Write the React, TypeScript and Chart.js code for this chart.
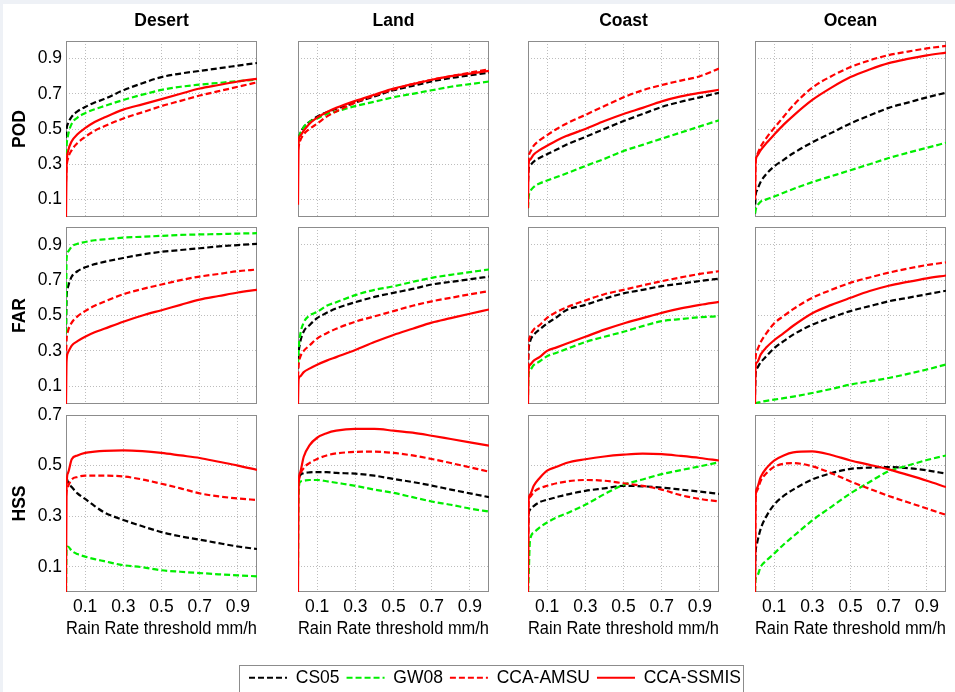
import React, { useEffect, useRef } from "react";
import { Chart, registerables } from "chart.js";
Chart.register(...registerables);

const FONT = 'Arial, "Liberation Sans", sans-serif';
const FS = 17.5;

// ---------- data ----------
const THRESHOLDS = [0, 0.003, 0.01, 0.03, 0.06, 0.1, 0.15, 0.2, 0.3, 0.4, 0.5, 0.6, 0.7, 0.8, 0.9, 1.0];
const REGIONS = ["Desert", "Land", "Coast", "Ocean"];
const METRICS = ["POD", "FAR", "HSS"];
const ALGORITHMS = ["CS05", "GW08", "CCA-AMSU", "CCA-SSMIS"];
const X_TICKS = [0.1, 0.3, 0.5, 0.7, 0.9];
const POD_FAR_TICKS = [0.1, 0.3, 0.5, 0.7, 0.9];
const HSS_TICKS = [0.1, 0.3, 0.5, 0.7];

// Desert
const DESERT_POD_CS05 = [0.45, 0.5, 0.53, 0.57, 0.6, 0.625, 0.65, 0.67, 0.72, 0.76, 0.795, 0.815, 0.83, 0.845, 0.86, 0.875];
const DESERT_POD_GW08 = [0.3, 0.4, 0.46, 0.53, 0.565, 0.59, 0.612, 0.63, 0.665, 0.695, 0.722, 0.74, 0.752, 0.762, 0.772, 0.78];
const DESERT_POD_AMSU = [0.2, 0.28, 0.33, 0.38, 0.42, 0.455, 0.49, 0.515, 0.56, 0.595, 0.63, 0.66, 0.69, 0.715, 0.74, 0.765];
const DESERT_POD_SSMIS = [0, 0.28, 0.37, 0.43, 0.47, 0.505, 0.54, 0.565, 0.61, 0.64, 0.67, 0.7, 0.73, 0.75, 0.77, 0.785];

const DESERT_FAR_CS05 = [0.4, 0.6, 0.66, 0.72, 0.75, 0.772, 0.79, 0.803, 0.825, 0.845, 0.86, 0.87, 0.88, 0.89, 0.898, 0.905];
const DESERT_FAR_GW08 = [0.4, 0.82, 0.86, 0.89, 0.905, 0.915, 0.925, 0.93, 0.94, 0.945, 0.95, 0.955, 0.958, 0.96, 0.963, 0.965];
const DESERT_FAR_AMSU = [0.25, 0.36, 0.41, 0.46, 0.495, 0.525, 0.555, 0.578, 0.62, 0.65, 0.675, 0.7, 0.72, 0.735, 0.75, 0.76];
const DESERT_FAR_SSMIS = [0, 0.24, 0.29, 0.33, 0.355, 0.38, 0.405, 0.425, 0.465, 0.5, 0.53, 0.56, 0.59, 0.61, 0.63, 0.645];

const DESERT_HSS_CS05 = [0.45, 0.45, 0.435, 0.415, 0.39, 0.368, 0.34, 0.315, 0.285, 0.26, 0.237, 0.22, 0.207, 0.193, 0.18, 0.17];
const DESERT_HSS_GW08 = [0, 0.17, 0.18, 0.163, 0.15, 0.14, 0.13, 0.122, 0.106, 0.098, 0.086, 0.08, 0.075, 0.07, 0.066, 0.062];
const DESERT_HSS_AMSU = [0.38, 0.4, 0.417, 0.445, 0.455, 0.46, 0.46, 0.46, 0.457, 0.445, 0.428, 0.41, 0.39, 0.378, 0.37, 0.364];
const DESERT_HSS_SSMIS = [0, 0.42, 0.47, 0.525, 0.54, 0.55, 0.555, 0.558, 0.56, 0.557, 0.55, 0.54, 0.53, 0.515, 0.5, 0.483];

// Land
const LAND_POD_CS05 = [0.45, 0.45, 0.47, 0.51, 0.54, 0.57, 0.595, 0.615, 0.65, 0.685, 0.72, 0.745, 0.77, 0.79, 0.805, 0.82];
const LAND_POD_GW08 = [0.4, 0.44, 0.47, 0.51, 0.54, 0.56, 0.585, 0.6, 0.63, 0.655, 0.68, 0.7, 0.72, 0.74, 0.755, 0.77];
const LAND_POD_AMSU = [0.38, 0.4, 0.43, 0.47, 0.5, 0.53, 0.57, 0.6, 0.65, 0.69, 0.725, 0.755, 0.78, 0.8, 0.82, 0.84];
const LAND_POD_SSMIS = [0.07, 0.43, 0.46, 0.49, 0.53, 0.565, 0.595, 0.62, 0.66, 0.695, 0.73, 0.755, 0.78, 0.8, 0.815, 0.83];

const LAND_FAR_CS05 = [0.2, 0.28, 0.34, 0.41, 0.445, 0.485, 0.515, 0.54, 0.575, 0.605, 0.628, 0.65, 0.675, 0.69, 0.705, 0.72];
const LAND_FAR_GW08 = [0.22, 0.3, 0.38, 0.46, 0.5, 0.52, 0.555, 0.575, 0.615, 0.645, 0.665, 0.69, 0.713, 0.73, 0.745, 0.76];
const LAND_FAR_AMSU = [0.15, 0.22, 0.26, 0.3, 0.33, 0.37, 0.4, 0.425, 0.465, 0.495, 0.525, 0.555, 0.58, 0.6, 0.62, 0.638];
const LAND_FAR_SSMIS = [0, 0.14, 0.155, 0.18, 0.2, 0.222, 0.245, 0.265, 0.305, 0.35, 0.39, 0.425, 0.46, 0.485, 0.51, 0.534];

const LAND_HSS_CS05 = [0.42, 0.44, 0.46, 0.47, 0.473, 0.474, 0.474, 0.471, 0.468, 0.46, 0.447, 0.435, 0.421, 0.405, 0.39, 0.375];
const LAND_HSS_GW08 = [0.1, 0.38, 0.434, 0.44, 0.443, 0.443, 0.438, 0.432, 0.42, 0.405, 0.392, 0.375, 0.358, 0.345, 0.33, 0.318];
const LAND_HSS_AMSU = [0.4, 0.43, 0.46, 0.49, 0.51, 0.526, 0.54, 0.548, 0.554, 0.555, 0.55, 0.54, 0.526, 0.51, 0.493, 0.476];
const LAND_HSS_SSMIS = [0, 0.42, 0.47, 0.535, 0.58, 0.61, 0.628, 0.638, 0.645, 0.645, 0.638, 0.63, 0.618, 0.605, 0.592, 0.579];

// Coast
const COAST_POD_CS05 = [0.2, 0.27, 0.29, 0.315, 0.335, 0.357, 0.383, 0.41, 0.455, 0.5, 0.545, 0.585, 0.625, 0.655, 0.68, 0.706];
const COAST_POD_GW08 = [0.05, 0.11, 0.14, 0.17, 0.19, 0.207, 0.227, 0.247, 0.29, 0.33, 0.375, 0.41, 0.445, 0.48, 0.515, 0.549];
const COAST_POD_AMSU = [0.2, 0.33, 0.365, 0.405, 0.435, 0.465, 0.5, 0.53, 0.58, 0.63, 0.68, 0.72, 0.75, 0.775, 0.8, 0.843];
const COAST_POD_SSMIS = [0.05, 0.3, 0.325, 0.355, 0.38, 0.405, 0.435, 0.46, 0.5, 0.545, 0.585, 0.62, 0.657, 0.685, 0.705, 0.723];

const COAST_FAR_CS05 = [0.2, 0.3, 0.35, 0.39, 0.42, 0.455, 0.49, 0.53, 0.56, 0.595, 0.625, 0.645, 0.666, 0.68, 0.695, 0.708];
const COAST_FAR_GW08 = [0.05, 0.17, 0.19, 0.22, 0.24, 0.27, 0.29, 0.31, 0.35, 0.38, 0.408, 0.44, 0.468, 0.48, 0.49, 0.496];
const COAST_FAR_AMSU = [0.2, 0.33, 0.38, 0.42, 0.445, 0.487, 0.52, 0.545, 0.585, 0.62, 0.645, 0.67, 0.694, 0.715, 0.735, 0.75];
const COAST_FAR_SSMIS = [0, 0.19, 0.22, 0.245, 0.265, 0.3, 0.32, 0.34, 0.38, 0.42, 0.455, 0.485, 0.515, 0.54, 0.56, 0.577];

const COAST_HSS_CS05 = [0.2, 0.3, 0.325, 0.34, 0.355, 0.365, 0.375, 0.385, 0.4, 0.41, 0.42, 0.418, 0.413, 0.405, 0.397, 0.388];
const COAST_HSS_GW08 = [0, 0.05, 0.2, 0.235, 0.255, 0.275, 0.295, 0.31, 0.345, 0.387, 0.424, 0.445, 0.466, 0.482, 0.497, 0.513];
const COAST_HSS_AMSU = [0.05, 0.35, 0.375, 0.395, 0.41, 0.42, 0.43, 0.437, 0.443, 0.44, 0.43, 0.42, 0.405, 0.383, 0.368, 0.358];
const COAST_HSS_SSMIS = [0, 0.36, 0.385, 0.42, 0.45, 0.48, 0.495, 0.51, 0.525, 0.536, 0.543, 0.547, 0.545, 0.538, 0.53, 0.52];

// Ocean
const OCEAN_POD_CS05 = [0.02, 0.12, 0.15, 0.2, 0.245, 0.287, 0.325, 0.362, 0.424, 0.478, 0.532, 0.577, 0.62, 0.65, 0.68, 0.706];
const OCEAN_POD_GW08 = [0.02, 0.04, 0.06, 0.087, 0.1, 0.116, 0.138, 0.159, 0.198, 0.232, 0.266, 0.3, 0.335, 0.365, 0.393, 0.422];
const OCEAN_POD_AMSU = [0.1, 0.3, 0.35, 0.4, 0.45, 0.505, 0.57, 0.634, 0.735, 0.8, 0.852, 0.89, 0.92, 0.94, 0.958, 0.972];
const OCEAN_POD_SSMIS = [0.1, 0.31, 0.345, 0.38, 0.42, 0.468, 0.525, 0.575, 0.665, 0.735, 0.795, 0.838, 0.874, 0.898, 0.918, 0.934];

const OCEAN_FAR_CS05 = [0.05, 0.17, 0.2, 0.235, 0.27, 0.315, 0.355, 0.392, 0.448, 0.488, 0.525, 0.553, 0.58, 0.6, 0.62, 0.64];
const OCEAN_FAR_GW08 = [0, 0.005, 0.007, 0.012, 0.018, 0.025, 0.033, 0.042, 0.062, 0.085, 0.11, 0.128, 0.147, 0.17, 0.195, 0.223];
const OCEAN_FAR_AMSU = [0.1, 0.26, 0.3, 0.35, 0.4, 0.455, 0.497, 0.536, 0.6, 0.645, 0.685, 0.715, 0.742, 0.765, 0.785, 0.8];
const OCEAN_FAR_SSMIS = [0, 0.22, 0.235, 0.28, 0.32, 0.36, 0.4, 0.442, 0.513, 0.56, 0.6, 0.638, 0.668, 0.69, 0.71, 0.726];

const OCEAN_HSS_CS05 = [0.05, 0.15, 0.19, 0.25, 0.3, 0.345, 0.38, 0.405, 0.445, 0.47, 0.487, 0.492, 0.494, 0.49, 0.481, 0.468];
const OCEAN_HSS_GW08 = [0, 0.05, 0.06, 0.1, 0.125, 0.152, 0.188, 0.22, 0.283, 0.337, 0.39, 0.435, 0.478, 0.5, 0.522, 0.54];
const OCEAN_HSS_AMSU = [0, 0.36, 0.4, 0.44, 0.47, 0.495, 0.507, 0.51, 0.497, 0.47, 0.437, 0.408, 0.38, 0.355, 0.33, 0.305];
const OCEAN_HSS_SSMIS = [0, 0.37, 0.41, 0.455, 0.49, 0.52, 0.54, 0.552, 0.556, 0.542, 0.52, 0.503, 0.485, 0.463, 0.44, 0.415];

// [row][col] -> [CS05, GW08, AMSU, SSMIS]
const SERIES: number[][][][] = [
  [
    [DESERT_POD_CS05, DESERT_POD_GW08, DESERT_POD_AMSU, DESERT_POD_SSMIS],
    [LAND_POD_CS05, LAND_POD_GW08, LAND_POD_AMSU, LAND_POD_SSMIS],
    [COAST_POD_CS05, COAST_POD_GW08, COAST_POD_AMSU, COAST_POD_SSMIS],
    [OCEAN_POD_CS05, OCEAN_POD_GW08, OCEAN_POD_AMSU, OCEAN_POD_SSMIS],
  ],
  [
    [DESERT_FAR_CS05, DESERT_FAR_GW08, DESERT_FAR_AMSU, DESERT_FAR_SSMIS],
    [LAND_FAR_CS05, LAND_FAR_GW08, LAND_FAR_AMSU, LAND_FAR_SSMIS],
    [COAST_FAR_CS05, COAST_FAR_GW08, COAST_FAR_AMSU, COAST_FAR_SSMIS],
    [OCEAN_FAR_CS05, OCEAN_FAR_GW08, OCEAN_FAR_AMSU, OCEAN_FAR_SSMIS],
  ],
  [
    [DESERT_HSS_CS05, DESERT_HSS_GW08, DESERT_HSS_AMSU, DESERT_HSS_SSMIS],
    [LAND_HSS_CS05, LAND_HSS_GW08, LAND_HSS_AMSU, LAND_HSS_SSMIS],
    [COAST_HSS_CS05, COAST_HSS_GW08, COAST_HSS_AMSU, COAST_HSS_SSMIS],
    [OCEAN_HSS_CS05, OCEAN_HSS_GW08, OCEAN_HSS_AMSU, OCEAN_HSS_SSMIS],
  ],
];

// ---------- styles / layout ----------
const LINE_COLORS = ["#000000", "#00ee00", "#ff0000", "#ff0000"];
const LINE_DASHES = [[6, 3], [6, 3], [6, 3], []];
const LINE_WIDTH = 2.2;
const GRID_COLOR = "#bdbdbd";
const BOX_COLOR = "#8c8c8c";

const PANEL_W = 191;
const COL_LEFT = [66, 298, 528, 755];
const ROW_TOP = [41, 227, 415];
const ROW_H = [176, 177, 177];
const Y_AXIS_W = 66;
const X_AXIS_H = 48;
const TITLE_H = 41;
const TOP_PAD = 12;
const EDGE_PAD = 4;

const LEGEND_LEFT = 200;
const LEGEND_TOP = 662;
const LEGEND_W = 590;
const LEGEND_H = 80;
const LEGEND_BOX_X = 39;
const LEGEND_BOX_W = 504;
const LEGEND_BOX_Y = 3;

function geom(r: number, c: number) {
  const yw = c === 0 ? Y_AXIS_W : 0;
  const xh = r === 2 ? X_AXIS_H : 0;
  const above = r === 0 ? TITLE_H : TOP_PAD;
  const below = r === 2 ? 0 : EDGE_PAD;
  return {
    left: COL_LEFT[c] - yw,
    top: ROW_TOP[r] - above,
    width: yw + PANEL_W + EDGE_PAD,
    height: above + ROW_H[r] + xh + below,
    yw,
    xh,
    padTop: r === 0 ? 0 : TOP_PAD,
    padBottom: below,
  };
}

const boxPlugin = {
  id: "panelBox",
  beforeDatasetsDraw(chart: any) {
    const { ctx, chartArea } = chart;
    const { left, top, right, bottom } = chartArea;
    ctx.save();
    ctx.strokeStyle = BOX_COLOR;
    ctx.lineWidth = 1;
    ctx.setLineDash([]);
    ctx.strokeRect(left + 0.5, top + 0.5, right - left - 1, bottom - top - 1);
    ctx.restore();
  },
};

const legendBoxPlugin = {
  id: "legendBox",
  afterDraw(chart: any) {
    const { ctx } = chart;
    ctx.save();
    ctx.strokeStyle = "#8c8c8c";
    ctx.lineWidth = 1;
    ctx.setLineDash([]);
    ctx.strokeRect(LEGEND_BOX_X + 0.5, LEGEND_BOX_Y + 0.5, LEGEND_BOX_W, 100);
    ctx.restore();
  },
};

function fixX(h: number) {
  return (s: any) => {
    s.height = h;
    s.paddingLeft = 0;
    s.paddingRight = 0;
    s.paddingTop = 0;
    s.paddingBottom = 0;
  };
}
function fixY(w: number) {
  return (s: any) => {
    s.width = w;
    s.paddingLeft = 0;
    s.paddingRight = 0;
    s.paddingTop = 0;
    s.paddingBottom = 0;
  };
}

const font = (bold = false) => ({ family: FONT, size: FS, weight: bold ? ("bold" as const) : ("normal" as const), lineHeight: 1.2 });

function panelConfig(r: number, c: number): any {
  const g = geom(r, c);
  const yTicks = r === 2 ? HSS_TICKS : POD_FAR_TICKS;
  return {
    type: "line",
    data: {
      datasets: ALGORITHMS.map((name, k) => ({
        label: name,
        data: THRESHOLDS.map((x, i) => ({ x, y: SERIES[r][c][k][i] })),
        borderColor: LINE_COLORS[k],
        backgroundColor: LINE_COLORS[k],
        borderDash: LINE_DASHES[k],
        borderWidth: LINE_WIDTH,
        pointRadius: 0,
        fill: false,
        cubicInterpolationMode: "monotone",
        order: 3 - k,
      })),
    },
    options: {
      animation: false,
      responsive: false,
      events: [],
      layout: { padding: { left: 0, right: EDGE_PAD, top: g.padTop, bottom: g.padBottom } },
      plugins: {
        legend: { display: false },
        tooltip: { enabled: false },
        title:
          r === 0
            ? {
                display: true,
                text: REGIONS[c],
                fullSize: false,
                color: "#000",
                font: font(true),
                padding: { top: 11, bottom: 9 },
              }
            : { display: false },
      },
      scales: {
        x: {
          type: "linear",
          min: 0,
          max: 1,
          afterBuildTicks: (s: any) => {
            s.ticks = X_TICKS.map((v) => ({ value: v }));
          },
          afterFit: fixX(g.xh),
          grid: { color: GRID_COLOR, lineWidth: 1, drawTicks: false },
          border: { display: false, dash: [1, 2] },
          ticks: {
            display: r === 2,
            padding: 5,
            color: "#000",
            font: font(),
            autoSkip: false,
            maxRotation: 0,
            callback: (v: any) => Number(v).toFixed(1),
          },
          title: {
            display: r === 2,
            text: "Rain Rate threshold mm/h",
            color: "#000",
            font: font(),
            padding: { top: 0, bottom: 0 },
          },
        },
        y: {
          type: "linear",
          min: 0,
          max: r === 2 ? 0.7 : 1,
          afterBuildTicks: (s: any) => {
            s.ticks = yTicks.map((v) => ({ value: v }));
          },
          afterFit: fixY(g.yw),
          grid: { color: GRID_COLOR, lineWidth: 1, drawTicks: false },
          border: { display: false, dash: [1, 2] },
          ticks: {
            display: c === 0,
            padding: 4,
            color: "#000",
            font: font(),
            autoSkip: false,
            callback: (v: any) => Number(v).toFixed(1),
          },
          title: {
            display: c === 0,
            text: METRICS[r],
            color: "#000",
            font: font(true),
            padding: { top: 9.5, bottom: 0 },
          },
        },
      },
    },
    plugins: [boxPlugin],
  };
}

function legendConfig(): any {
  return {
    type: "line",
    data: {
      datasets: ALGORITHMS.map((name, k) => ({
        label: name,
        data: [],
        borderColor: LINE_COLORS[k],
        backgroundColor: LINE_COLORS[k],
        borderDash: LINE_DASHES[k],
        borderWidth: LINE_WIDTH,
        pointRadius: 0,
      })),
    },
    options: {
      animation: false,
      responsive: false,
      events: [],
      layout: { padding: 0 },
      scales: { x: { type: "linear", display: false }, y: { display: false } },
      plugins: {
        tooltip: { enabled: false },
        legend: {
          display: true,
          position: "top",
          maxHeight: 60,
          labels: {
            usePointStyle: true,
            pointStyle: "line",
            pointStyleWidth: 38,
            padding: 7,
            color: "#000",
            font: { family: FONT, size: FS },
            generateLabels: (chart: any) =>
              chart.data.datasets.map((ds: any, i: number) => ({
                text: ds.label,
                fillStyle: ds.borderColor,
                strokeStyle: ds.borderColor,
                lineWidth: LINE_WIDTH,
                lineDash: ds.borderDash,
                lineCap: "butt",
                pointStyle: "line",
                hidden: false,
                datasetIndex: i,
                fontColor: "#000",
              })),
          },
        },
      },
    },
    plugins: [legendBoxPlugin],
  };
}

const PANELS: { r: number; c: number }[] = [];
for (let r = 0; r < METRICS.length; r++) for (let c = 0; c < REGIONS.length; c++) PANELS.push({ r, c });

export default function App() {
  const refs = useRef<(HTMLCanvasElement | null)[]>([]);
  const legendRef = useRef<HTMLCanvasElement | null>(null);

  useEffect(() => {
    const charts: Chart[] = [];
    PANELS.forEach(({ r, c }, i) => {
      const cv = refs.current[i];
      if (cv) charts.push(new Chart(cv, panelConfig(r, c)));
    });
    if (legendRef.current) charts.push(new Chart(legendRef.current, legendConfig()));
    return () => charts.forEach((ch) => ch.destroy());
  }, []);

  return (
    <div
      style={{
        position: "absolute",
        left: 0,
        top: 0,
        width: 955,
        height: 692,
        overflow: "hidden",
        background: "#eef1f6",
      }}
    >
      <div style={{ position: "absolute", left: 3, top: 4, right: 0, bottom: 0, background: "#ffffff" }} />
      {PANELS.map(({ r, c }, i) => {
        const g = geom(r, c);
        return (
          <canvas
            key={i}
            ref={(el) => {
              refs.current[i] = el;
            }}
            width={g.width}
            height={g.height}
            style={{ position: "absolute", left: g.left, top: g.top, width: g.width, height: g.height }}
          />
        );
      })}
      <canvas
        ref={legendRef}
        width={LEGEND_W}
        height={LEGEND_H}
        style={{ position: "absolute", left: LEGEND_LEFT, top: LEGEND_TOP, width: LEGEND_W, height: LEGEND_H }}
      />
    </div>
  );
}
